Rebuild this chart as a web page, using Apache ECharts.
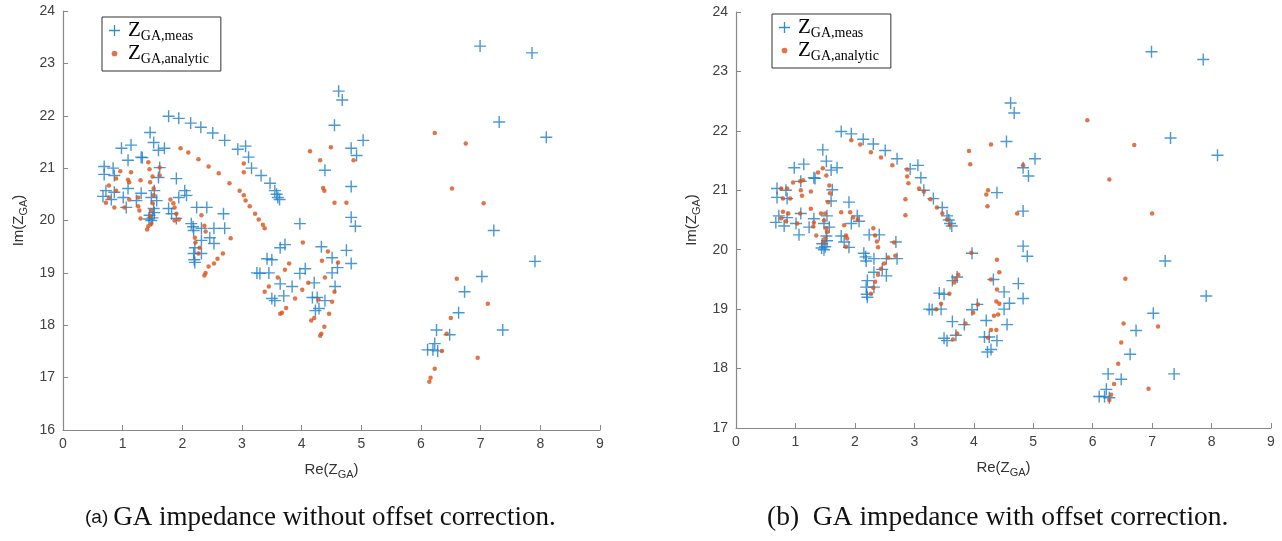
<html>
<head>
<meta charset="utf-8">
<title>GA impedance</title>
<script src="https://cdn.jsdelivr.net/npm/echarts@6/dist/echarts.min.js"></script>
</head>
<body style="margin:0;background:#fff">
<div id="main" style="width:1282px;height:541px;"></div>
<script type="text/javascript">
// measured impedance, same in both panels  [Re, Im]
var measData = [
  [1.77,21.99],[1.94,21.95],[2.14,21.86],[2.31,21.78],[2.51,21.67],[2.71,21.53],[2.93,21.36],[3.06,21.42],
  [3.11,21.21],[3.16,21.00],[3.32,20.86],[3.47,20.71],[3.55,20.57],[3.60,20.44],[3.63,20.40],[3.58,20.50],
  [0.69,21.03],[0.84,21.00],[0.98,21.38],[1.14,21.44],[1.09,21.15],[1.31,21.21],[1.33,21.20],[1.46,21.68],[1.52,21.49],
  [1.60,21.34],[1.70,21.38],[0.69,20.88],[0.86,20.86],[0.72,20.57],[0.86,20.54],[0.67,20.46],[0.81,20.40],
  [1.01,20.44],[1.09,20.61],[1.23,20.38],[1.31,20.52],[1.06,20.25],[1.48,20.44],[1.57,20.38],[1.52,20.23],
  [1.45,20.10],[1.48,20.00],[1.50,20.05],[1.44,20.03],[1.53,20.15],[1.53,20.57],[1.60,20.82],[1.62,21.01],[1.77,20.23],
  [1.90,20.80],[1.94,20.44],[2.04,20.57],[2.07,20.48],[1.82,20.13],[1.90,20.04],[2.24,20.25],[2.41,20.25],
  [2.15,19.94],[2.19,19.81],[2.18,19.88],[2.32,19.85],[2.53,19.85],[2.69,20.13],[2.71,19.85],[2.21,19.48],[2.32,19.62],
  [2.46,19.67],[2.53,19.56],[2.19,19.37],[2.32,19.37],[2.21,19.20],[2.20,19.25],
  [4.62,22.47],[4.68,22.30],[4.55,21.82],[5.03,21.53],[4.83,21.38],[4.92,21.24],[4.39,20.96],[4.83,20.65],
  [4.83,20.06],[4.90,19.89],[3.97,19.94],[4.33,19.50],[4.75,19.43],[4.51,19.29],[4.83,19.18],[3.72,19.54],
  [3.64,19.48],[3.42,19.27],[3.50,19.25],[3.25,19.00],[3.30,18.99],[3.45,19.00],[3.97,18.99],[4.06,19.08],
  [3.64,18.79],[3.84,18.74],[4.21,18.81],[4.56,18.74],[4.51,19.00],[4.60,19.10],[3.50,18.51],[3.55,18.47],
  [3.70,18.56],[4.18,18.53],[4.26,18.53],[4.29,18.32],[4.23,18.28],[4.39,18.47],
  [6.99,23.33],[7.86,23.20],[7.31,21.88],[8.10,21.59],[7.22,19.81],[7.91,19.22],[7.02,18.93],[6.73,18.64],
  [6.63,18.24],[6.26,17.91],[6.48,17.82],[7.37,17.91],[6.23,17.65],[6.11,17.53],[6.20,17.53],[6.28,17.51]
];

// analytic impedance, panel (a): no offset correction
var analyticRaw = [
  [6.23,21.67],[6.75,21.47],[6.52,20.61],[7.05,20.33],[6.60,18.89],[7.12,18.41],[6.50,18.14],[6.43,17.84],
  [6.35,17.51],[6.95,17.38],[6.23,17.17],[6.16,17.00],[6.14,16.92],
  [4.14,21.32],[4.49,21.40],[4.31,21.15],[4.87,21.15],[4.38,20.57],[4.36,20.62],[4.55,20.34],[4.75,20.34],
  [3.22,20.13],[3.28,20.02],[3.35,19.92],[3.38,19.85],[4.02,19.58],[4.44,19.41],[4.34,19.23],[4.61,19.20],
  [3.79,19.18],[3.72,19.06],[3.60,18.91],[3.45,18.74],[3.38,18.64],[4.11,18.81],[4.01,18.68],[4.39,18.91],
  [4.55,18.64],[4.51,18.45],[3.89,18.51],[3.74,18.33],[3.67,18.24],[3.64,18.22],[4.28,18.49],[4.46,18.22],
  [4.21,18.14],[4.16,18.09],[4.38,17.97],[4.33,17.84],[4.31,17.80],
  [1.97,21.38],[2.10,21.30],[2.27,21.17],[2.44,21.03],[2.61,20.90],[2.79,20.71],[2.96,20.57],[3.03,20.48],
  [3.06,20.38],[3.13,20.27],[3.03,21.09],[3.03,20.92],
  [0.96,20.94],[0.89,20.80],[0.77,20.67],[0.89,20.57],[0.77,20.44],[0.72,20.34],[0.86,20.25],[1.03,20.25],
  [1.11,20.40],[1.09,20.78],[1.14,20.92],[1.11,20.73],[1.30,20.77],[1.26,20.44],[1.26,20.27],[1.28,20.19],
  [1.30,20.04],[1.43,21.11],[1.45,20.98],[1.50,20.84],[1.46,20.73],[1.52,20.61],[1.52,20.48],[1.50,20.33],
  [1.48,20.19],[1.46,20.08],[1.48,19.94],[1.41,19.83],[1.43,19.89],[1.62,21.01],[1.62,20.86],[1.80,20.40],
  [1.85,20.33],[1.87,20.25],[1.90,20.13],[1.94,20.02],[1.87,20.00],[2.32,20.10],[2.37,19.90],[2.39,19.79],
  [2.21,19.67],[2.22,19.58],[2.29,19.48],[2.27,19.37],[2.81,19.66],[2.68,19.37],[2.59,19.27],[2.53,19.18],
  [2.44,19.12],[2.39,19.00],[2.37,18.95]
];

// analytic impedance, panel (b): with offset correction
var analyticCorr = [
  [1.94,21.84],[2.09,21.77],[2.27,21.64],[2.44,21.55],[2.63,21.42],[2.88,21.35],[2.88,21.23],[2.90,21.12],
  [2.85,20.85],[2.85,20.58],[3.08,21.03],[3.16,20.98],[3.27,20.85],[3.38,20.71],[3.47,20.61],[3.55,20.51],
  [3.60,20.42],[3.92,21.66],[3.94,21.44],
  [0.76,21.03],[0.86,21.03],[0.79,20.86],[0.91,20.86],[0.79,20.64],[0.88,20.61],[0.76,20.53],[0.84,20.48],
  [0.96,21.13],[1.08,21.15],[1.13,21.17],[1.09,21.00],[1.11,20.91],[1.08,20.61],[1.03,20.44],[1.26,20.98],
  [1.26,20.69],[1.31,20.46],[1.30,20.39],[1.35,20.24],[1.38,21.30],[1.46,21.37],[1.52,21.25],[1.57,21.08],
  [1.58,20.95],[1.55,20.80],[1.50,20.61],[1.43,20.61],[1.48,20.49],[1.52,20.36],[1.53,20.30],[1.50,20.19],
  [1.47,20.12],[1.77,20.63],[1.92,20.63],[1.97,20.54],[2.05,20.51],[1.82,20.41],[1.85,20.24],[1.87,20.19],
  [1.85,20.05],[2.31,20.36],[2.34,20.24],[2.37,20.14],[2.39,20.04],[2.66,20.12],[2.68,19.90],[2.56,19.87],
  [2.49,19.77],[2.44,19.68],[2.39,19.58],[2.34,19.46],[2.31,19.36],[2.27,19.26],
  [3.74,19.58],[3.69,19.51],[3.59,19.26],[5.91,22.18],[6.28,21.18],[4.29,21.77],[4.83,21.42],[4.24,21.00],
  [4.21,20.93],[4.23,20.73],[4.73,20.61],[3.96,19.95],[4.39,19.83],[4.43,19.62],[3.67,19.45],[4.29,19.50],
  [4.39,19.33],[4.38,19.13],[4.43,19.09],[4.07,19.08],[3.99,18.94],[3.45,19.09],[3.37,19.00],[4.34,18.89],
  [4.41,18.91],[3.86,18.76],[3.72,18.59],[3.65,18.49],[4.29,18.65],[4.38,18.65],[4.24,18.52],
  [6.70,21.76],[7.00,20.61],[6.55,19.51],[6.52,18.76],[7.10,18.71],[6.48,18.44],[6.43,18.08],[6.36,17.74],
  [6.94,17.66],[6.31,17.56],[6.28,17.47]
];

var xTicks = [0, 9];          // Re axis range
var yRangeA = [16, 24];       // Im axis range, panel (a)
var yRangeB = [17, 24];       // Im axis range, panel (b)
var captionA = 'GA impedance without offset correction.';
var captionB = 'GA impedance with offset correction.';

var blue = '#0072BD', orange = '#D95319';
var plusPath = 'path://M5.3,0H6.7V5.3H12V6.7H6.7V12H5.3V6.7H0V5.3H5.3Z';
var dotIcon = 'path://M0,0L0,0M10,10L10,10M2.4,5a2.6,2.6 0 1 0 5.2,0a2.6,2.6 0 1 0 -5.2,0z';
var sans = 'Liberation Sans', serif = 'Liberation Serif';

var myChart = echarts.init(document.getElementById('main'));

function nameRich() {
  return { rich: {
    t: { fontFamily: sans, fontSize: 15, color: '#333', lineHeight: 20 },
    s: { fontFamily: sans, fontSize: 11, color: '#333', lineHeight: 6, verticalAlign: 'bottom' }
  } };
}
function xAxisOf(idx) {
  return {
    gridIndex: idx, type: 'value', min: xTicks[0], max: xTicks[1], interval: 1,
    name: '{t|Re(Z}{s|GA}{t|)}', nameLocation: 'middle', nameGap: 30,
    nameTextStyle: nameRich(),
    axisLine: { lineStyle: { color: '#888', width: 1.2 } },
    axisTick: { inside: true, length: 5, lineStyle: { color: '#888' } },
    axisLabel: { color: '#404040', fontFamily: sans, fontSize: 14, margin: 7 },
    splitLine: { show: false }
  };
}
function yAxisOf(idx, r) {
  return {
    gridIndex: idx, type: 'value', min: r[0], max: r[1], interval: 1,
    name: '{t|Im(Z}{s|GA}{t|)}', nameLocation: 'middle', nameGap: 34,
    nameTextStyle: nameRich(),
    axisLine: { lineStyle: { color: '#888', width: 1.2 } },
    axisTick: { inside: true, length: 5, lineStyle: { color: '#888' } },
    axisLabel: { color: '#404040', fontFamily: sans, fontSize: 14, margin: 8 },
    splitLine: { show: false }
  };
}
function legendOf(left, top) {
  return {
    left: left, top: top, orient: 'vertical',
    backgroundColor: '#fff', borderColor: '#333', borderWidth: 1,
    padding: [3, 12, 5, 7], itemGap: 0, itemWidth: 11, itemHeight: 11,
    data: [
      { name: 'meas', icon: plusPath, itemStyle: { color: blue } },
      { name: 'analytic', icon: dotIcon, itemStyle: { color: orange } }
    ],
    formatter: function (name) { return '{z|Z}{s|GA,' + name + '}'; },
    textStyle: { rich: {
      z: { fontFamily: serif, fontSize: 21, color: '#000', lineHeight: 25, padding: [0, 0, 0, 3] },
      s: { fontFamily: serif, fontSize: 14, color: '#000', lineHeight: 10, verticalAlign: 'bottom' }
    } },
    selectedMode: false
  };
}
function measSeries(idx) {
  return { name: 'meas', type: 'scatter', xAxisIndex: idx, yAxisIndex: idx, data: measData,
    symbol: plusPath, symbolSize: 12, itemStyle: { color: '#1b7ecb', opacity: 0.8 }, silent: true };
}
function analyticSeries(idx, d) {
  return { name: 'analytic', type: 'scatter', xAxisIndex: idx, yAxisIndex: idx, data: d,
    symbol: 'circle', symbolSize: 4.5, itemStyle: { color: orange }, silent: true };
}

var option = {
  animation: false,
  backgroundColor: '#fff',
  title: [
    { text: '{a|(a)} {b|' + captionA + '}', left: 80, top: 499,
      textStyle: { fontWeight: 'normal', rich: {
        a: { fontFamily: sans, fontSize: 19, color: '#111', fontWeight: 'normal' },
        b: { fontFamily: serif, fontSize: 27, color: '#111', fontWeight: 'normal' } } } },
    { text: '{b|(b)  ' + captionB + '}', left: 762, top: 499,
      textStyle: { fontWeight: 'normal', rich: {
        b: { fontFamily: serif, fontSize: 27.5, color: '#111', fontWeight: 'normal' } } } }
  ],
  legend: [legendOf(102, 17), legendOf(772, 14)],
  grid: [
    { left: 63, top: 11, width: 537, height: 419 },
    { left: 736, top: 12, width: 535, height: 416 }
  ],
  xAxis: [xAxisOf(0), xAxisOf(1)],
  yAxis: [yAxisOf(0, yRangeA), yAxisOf(1, yRangeB)],
  series: [
    measSeries(0), analyticSeries(0, analyticRaw),
    measSeries(1), analyticSeries(1, analyticCorr)
  ]
};
myChart.setOption(option);
</script>
</body>
</html>
